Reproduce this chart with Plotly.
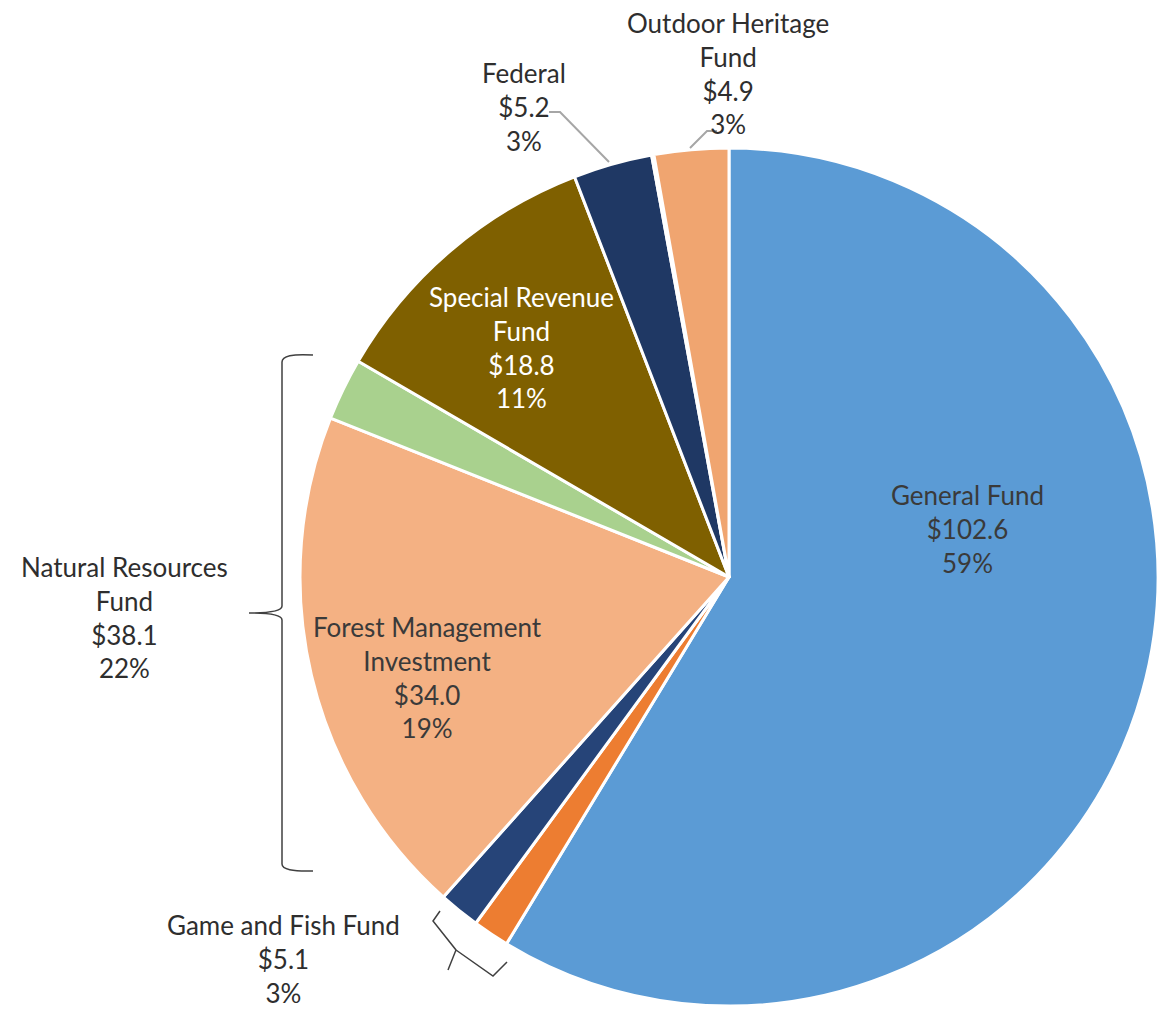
import plotly.graph_objects as go

# pie segments, clockwise from 12 o'clock
segments = ["General Fund", "Game and Fish Fund (a)", "Game and Fish Fund (b)",
            "Forest Management Investment", "Natural Resources Fund (other)",
            "Special Revenue Fund", "Federal", "Other", "Outdoor Heritage Fund"]
values = [102.6, 2.4, 2.7, 34.0, 4.1, 18.8, 5.2, 0.15, 4.9]
colors = ["#5B9BD5", "#ED7D31", "#264478", "#F4B183", "#A9D18E",
          "#7F6000", "#1F3864", "#C9DDF0", "#F0A570"]

# data labels
label_names = ["Outdoor Heritage<br>Fund", "Federal", "Special Revenue<br>Fund",
               "General Fund", "Forest Management<br>Investment",
               "Natural Resources<br>Fund", "Game and Fish Fund"]
label_amounts = [4.9, 5.2, 18.8, 102.6, 34.0, 38.1, 5.1]
label_pcts = [3, 3, 11, 59, 19, 22, 3]

# page body has an 8px margin, so the figure is placed at (8, 8)
OFF = 8
W, H = 1171 - OFF, 1010 - OFF
cx, cy, r = 729, 577, 429

fig = go.Figure()
fig.add_trace(go.Pie(
    values=values, labels=segments, sort=False, direction="clockwise", rotation=0,
    marker=dict(colors=colors, line=dict(color="white", width=3)),
    textinfo="none", showlegend=False,
    domain=dict(x=[(cx - r - OFF) / W, (cx + r - OFF) / W],
                y=[1 - (cy + r - OFF) / H, 1 - (cy - r - OFF) / H]),
))

# label positions (page pixels)
label_pos = [(728, 73), (524, 107), (521, 347), (967, 529), (427, 677), (124, 617), (283, 959)]
label_colors = ["#2e2e2e", "#2e2e2e", "white", "#3a3a3a", "#3a3a3a", "#2e2e2e", "#2e2e2e"]

for name, amt, pct, (x, y), c in zip(label_names, label_amounts, label_pcts, label_pos, label_colors):
    fig.add_annotation(x=x, y=y, xref="x", yref="y", showarrow=False,
                       text=f"{name}<br>${amt:.1f}<br>{pct}%",
                       font=dict(family="Lato", size=26, color=c), align="center")

gray = "#A6A6A6"
# leader lines
fig.add_shape(type="path", path="M 549 112 L 560 112 L 609 162", xref="x", yref="y",
              line=dict(color=gray, width=2))
fig.add_shape(type="path", path="M 717 131 L 707 131 L 690 148", xref="x", yref="y",
              line=dict(color=gray, width=2))

# braces
brace = "#404040"
fig.add_shape(type="path", xref="x", yref="y", line=dict(color=brace, width=1.5),
              path="M 313 355 Q 282 353 282 362 L 282 606 Q 282 613 249 613 "
                   "Q 282 613 282 620 L 282 864 Q 282 872 313 871")
fig.add_shape(type="path", xref="x", yref="y", line=dict(color=brace, width=1.5),
              path="M 440 911 L 433 921 L 456 950 L 448 970 M 456 950 L 493 976 L 507 962")

fig.update_xaxes(visible=False, range=[OFF, OFF + W], fixedrange=True)
fig.update_yaxes(visible=False, range=[OFF + H, OFF], fixedrange=True)
fig.update_layout(width=W, height=H, margin=dict(l=0, r=0, t=0, b=0),
                  plot_bgcolor="white", paper_bgcolor="white")

fig.write_html("out.html")
